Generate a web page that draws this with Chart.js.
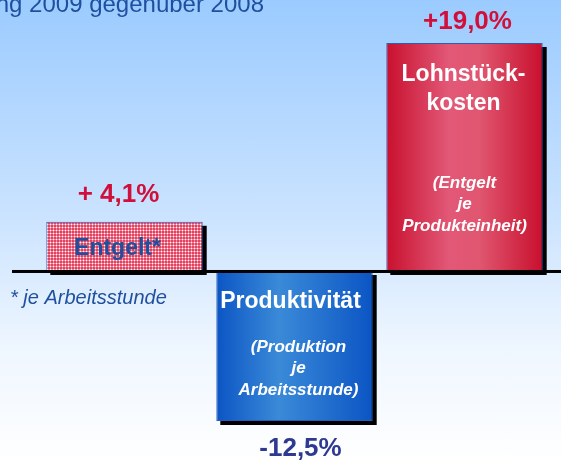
<!DOCTYPE html>
<html>
<head>
<meta charset="utf-8">
<script src="https://cdn.jsdelivr.net/npm/chart.js@4"></script>
<style>
  html, body { margin: 0; padding: 0; }
  body { width: 561px; height: 463px; overflow: hidden;
         background: linear-gradient(to bottom, #9bcbff 0%, #c9e2ff 45%, #eef6ff 75%, #ffffff 100%); }
  #wrap { position: relative; width: 561px; height: 463px; }
</style>
</head>
<body>
<div id="wrap"><canvas id="chart" width="561" height="463"></canvas></div>
<script>
// Veränderung 2009 gegenüber 2008
const categories = ['Entgelt', 'Produktivität', 'Lohnstückkosten'];
const values = [4.1, -12.5, 19.0];
const valueLabels = ['+ 4,1%', '-12,5%', '+19,0%'];
const titleLines = [['Entgelt*'], ['Produktivität'], ['Lohnstück-', 'kosten']];
const subLines = [[], ['(Produktion', 'je', 'Arbeitsstunde)'], ['(Entgelt', 'je', 'Produkteinheit)']];

const ctx0 = document.getElementById('chart').getContext('2d');
const FONT = 'Arial, "Liberation Sans", sans-serif';

// checkered pink fill for Entgelt
function checker() {
  const c = document.createElement('canvas');
  c.width = 3; c.height = 3;
  const g = c.getContext('2d');
  g.fillStyle = '#e0445f'; g.fillRect(0, 0, 3, 3);
  g.fillStyle = '#f08aa0'; g.fillRect(2, 0, 1, 3); g.fillRect(0, 2, 3, 1);
  g.fillStyle = '#ffffff'; g.fillRect(2, 2, 1, 1);
  return ctx0.createPattern(c, 'repeat');
}

function fillFor(chart, i) {
  if (i === 0) return checker();
  const xs = chart.scales.x;
  if (!xs) return i === 1 ? '#1a66c8' : '#cc1030';
  const w = (xs.width / categories.length) * 0.92;
  const cx = xs.getPixelForValue(i);
  const g = chart.ctx.createLinearGradient(cx - w / 2, 0, cx + w / 2, 0);
  if (i === 1) {
    g.addColorStop(0, '#0b55c4');
    g.addColorStop(0.4, '#3a8ad8');
    g.addColorStop(1, '#0b55c4');
  } else {
    g.addColorStop(0, '#c8102e');
    g.addColorStop(0.4, '#e25877');
    g.addColorStop(0.6, '#e0556f');
    g.addColorStop(1, '#c8102e');
  }
  return g;
}

const overlay = {
  id: 'overlay',
  beforeDatasetsDraw(chart) {
    const ctx = chart.ctx;
    ctx.save();
    ctx.fillStyle = '#1f4f9e';
    ctx.font = '24px ' + FONT;
    ctx.textAlign = 'right';
    ctx.textBaseline = 'alphabetic';
    ctx.fillText('Veränderung 2009 gegenüber 2008', 264, 12);
    // hard shadow of bars
    ctx.fillStyle = '#000';
    chart.getDatasetMeta(0).data.forEach(b => {
      const l = b.x - b.width / 2, top = Math.min(b.y, b.base), bot = Math.max(b.y, b.base);
      ctx.fillRect(l + 4, top + 4, b.width, bot - top);
    });
    ctx.restore();
  },
  afterDatasetsDraw(chart) {
    const ctx = chart.ctx;
    const y0 = chart.scales.y.getPixelForValue(0);
    const meta = chart.getDatasetMeta(0).data;
    ctx.save();
    // zero line
    ctx.fillStyle = '#000';
    ctx.fillRect(12, y0 - 1, 549, 3);
    ctx.textAlign = 'center';
    ctx.textBaseline = 'middle';
    const bold = 'bold 26px ' + FONT;
    const sub = 'italic bold 17px ' + FONT;
    // Entgelt
    let b = meta[0];
    ctx.font = bold; ctx.fillStyle = '#d0103a';
    ctx.fillText(valueLabels[0], b.x - 6, b.y - 27);
    ctx.font = 'bold 23px ' + FONT; ctx.fillStyle = '#1f4f9e';
    ctx.fillText(titleLines[0][0], b.x - 7, b.y + 27);
    // Produktivität
    b = meta[1];
    ctx.font = bold; ctx.fillStyle = '#2e3a92';
    ctx.fillText(valueLabels[1], b.x + 6, b.y + 28);
    ctx.fillStyle = '#fff';
    ctx.font = 'bold 23px ' + FONT;
    ctx.fillText(titleLines[1][0], b.x - 4, y0 + 31);
    ctx.font = sub;
    subLines[1].forEach((t, k) => ctx.fillText(t, b.x + 4, y0 + 76 + k * 21.5));
    // Lohnstückkosten
    b = meta[2];
    ctx.font = bold; ctx.fillStyle = '#d0103a';
    ctx.fillText(valueLabels[2], b.x + 3, b.y - 21);
    ctx.fillStyle = '#fff';
    ctx.font = 'bold 23px ' + FONT;
    titleLines[2].forEach((t, k) => ctx.fillText(t, b.x - 1, b.y + 32 + k * 29));
    ctx.font = sub;
    subLines[2].forEach((t, k) => ctx.fillText(t, b.x, b.y + 140 + k * 21.5));
    // footnote
    ctx.textAlign = 'left';
    ctx.font = 'italic 20px ' + FONT;
    ctx.fillStyle = '#1f4f9e';
    ctx.fillText('* je Arbeitsstunde', 10, y0 + 27);
    ctx.restore();
  }
};

const chart = new Chart(ctx0, {
  type: 'bar',
  data: {
    labels: categories,
    datasets: [{
      data: values,
      backgroundColor: c => fillFor(c.chart, c.dataIndex),
      borderColor: '#2a5cb8',
      borderWidth: 1,
      borderSkipped: false,
      barPercentage: 0.92,
      categoryPercentage: 1
    }]
  },
  options: {
    responsive: false,
    animation: false,
    layout: { padding: { left: 39.5, right: 11.5, top: 0, bottom: 0 } },
    plugins: { legend: { display: false }, tooltip: { enabled: false } },
    scales: {
      x: { display: false, offset: true },
      y: { display: false, min: -16, max: 22.58 }
    }
  },
  plugins: [overlay]
});
</script>
</body>
</html>
